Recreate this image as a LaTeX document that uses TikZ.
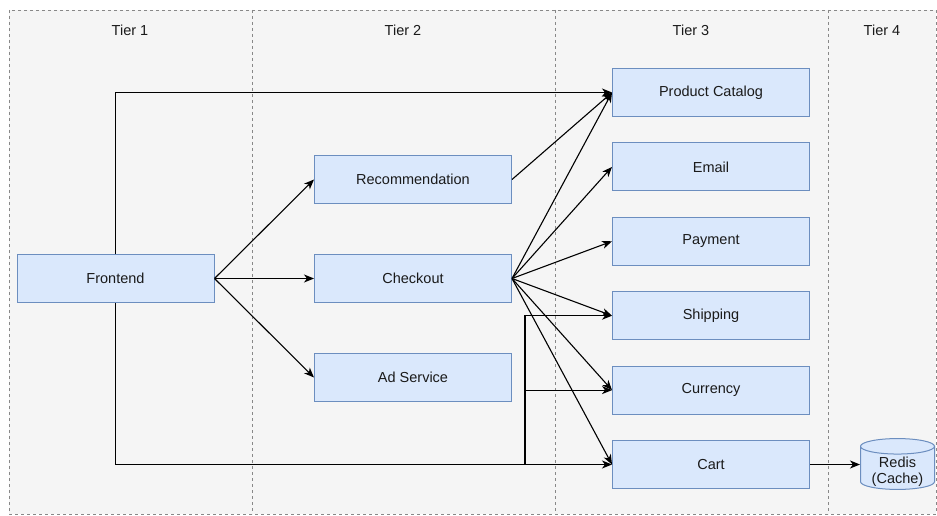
\documentclass[tikz,border=0pt]{standalone}
\usepackage{fontspec}
\setmainfont{Liberation Sans}
\usetikzlibrary{positioning,arrows.meta,shapes.geometric}
\definecolor{tierbg}{HTML}{F5F5F5}
\definecolor{tierline}{HTML}{888888}
\definecolor{svcfill}{HTML}{DAE8FC}
\definecolor{svcline}{HTML}{6C8EBF}
\definecolor{txt}{HTML}{1A1A1A}
\tikzset{
  svc/.style={draw=svcline, fill=svcfill, line width=1pt, minimum width=197pt, minimum height=48pt, inner sep=0pt, text=txt, font=\fontsize{14.5}{17}\selectfont},
  dbstore/.style={draw=svcline, fill=svcfill, line width=1pt, cylinder, shape border rotate=90, aspect=0.3, minimum width=74pt, minimum height=46pt, inner sep=0pt, font=\fontsize{14.5}{16}\selectfont},
  tierlabel/.style={text=txt, font=\fontsize{14.5}{17}\selectfont},
  divider/.style={draw=tierline, line width=0.9pt, dash pattern=on 3pt off 3pt},
  arr/.style={draw=black, line width=1.1pt, -{Stealth[length=10pt,width=8pt,inset=3pt]}}
}
\begin{document}
\begin{tikzpicture}[x=1pt,y=-1pt]
\useasboundingbox (0,0) rectangle (937,516);
% tiers
\fill[tierbg] (9,10) rectangle (936,514);
\draw[divider] (9,10) rectangle (936,514);
\foreach \xd in {252,555,828}
  \draw[divider] (\xd,10) -- (\xd,514);
\node[tierlabel] (t1) at (130,30) {Tier 1};
\node[tierlabel] (t2) at (403,30) {Tier 2};
\node[tierlabel] (t3) at (691,30) {Tier 3};
\node[tierlabel] (t4) at (882,30) {Tier 4};
% services
\node[svc] (fe) at (115.5,278.5) {Frontend};
\node[svc] (rec) at (413,179.5) {Recommendation};
\node[svc] (co) at (413,278.5) {Checkout};
\node[svc] (ad) at (413,377.5) {Ad Service};
\node[svc] (pc) at (711,92.5) {Product Catalog};
\node[svc, below=25.4pt of pc] (em) {Email};
\node[svc, below=25.4pt of em] (pay) {Payment};
\node[svc, below=25.4pt of pay] (ship) {Shipping};
\node[svc, below=25.4pt of ship] (cur) {Currency};
\node[svc, below=25.4pt of cur] (cart) {Cart};
\node[dbstore, anchor=shape center] (redis) at (897.5,464) {\phantom{\shortstack{Redis\\(Cache)}}};
\node[tierlabel, align=center, font=\fontsize{14.5}{16}\selectfont] (redistxt) at ([yshift=-7.5pt]redis.shape center) {Redis\\(Cache)};
\coordinate (jn) at ([xshift=13pt]co.east |- cart.west);
% connectors
\draw[arr] (fe.north) |- (pc.west);
\draw[arr] (fe.east) -- (rec.west);
\draw[arr] (fe.east) -- (co.west);
\draw[arr] (fe.east) -- (ad.west);
\draw[arr] (fe.south) |- (cart.west);
\draw[arr] (fe.south) |- (jn) |- (cur.west);
\draw[arr] (fe.south) |- (jn) |- (ship.west);
\draw[arr] (rec.east) -- (pc.west);
\foreach \dst in {pc,em,pay,ship,cur,cart}
  \draw[arr] (co.east) -- (\dst.west);
\draw[arr] (cart.east) -- (redis.west |- cart.east);
\end{tikzpicture}
\end{document}
